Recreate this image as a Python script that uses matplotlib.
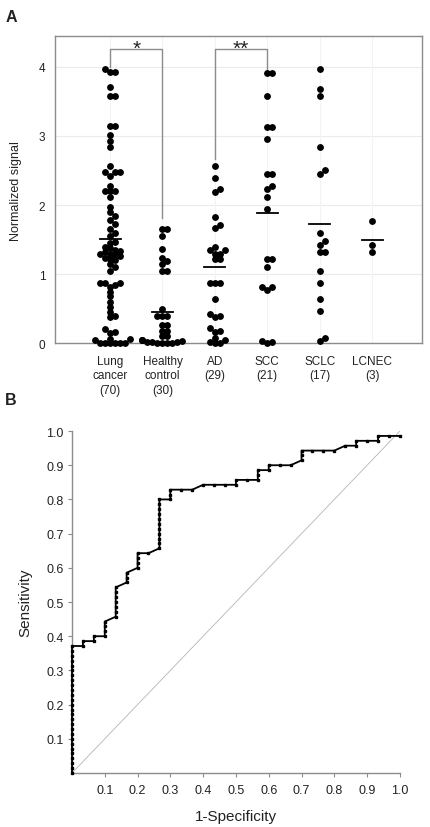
import numpy as np
import matplotlib
matplotlib.use("Agg")
import matplotlib.pyplot as plt

plt.rcParams['font.family'] = ['Liberation Sans', 'DejaVu Sans']

# ---- Panel A data (normalized signal) ----
group_labels = ["Lung\ncancer\n(70)", "Healthy\ncontrol\n(30)", "AD\n(29)",
                "SCC\n(21)", "SCLC\n(17)", "LCNEC\n(3)"]

lung_cancer = [3.97, 3.93, 3.92, 3.71, 3.57, 3.57, 3.14, 3.14, 3.02, 2.93, 2.84,
               2.57, 2.48, 2.48, 2.48, 2.42, 2.28, 2.20, 2.20, 2.20, 2.12,
               1.97, 1.90, 1.84, 1.78, 1.72, 1.66, 1.60, 1.55,
               1.47, 1.45, 1.40, 1.38, 1.35, 1.33, 1.32, 1.30, 1.30, 1.28, 1.26,
               1.24, 1.22, 1.20, 1.15, 1.10, 1.05,
               0.87, 0.87, 0.87, 0.85, 0.82,
               0.75, 0.68, 0.60, 0.53, 0.46, 0.40, 0.38,
               0.21, 0.17, 0.15,
               0.07, 0.06, 0.05, 0.01, 0.0, 0.0, 0.0, 0.0, 0.0]
healthy_control = [1.66, 1.66, 1.55, 1.37, 1.24, 1.19, 1.15, 1.05, 1.05,
                   0.50, 0.39, 0.39, 0.39, 0.26, 0.26, 0.18, 0.18, 0.11, 0.11,
                   0.05, 0.05, 0.05, 0.04, 0.02, 0.02, 0.02, 0.01, 0.0, 0.0, 0.0]
ad = [2.56, 2.39, 2.23, 2.19, 1.83, 1.71, 1.67,
      1.40, 1.35, 1.35, 1.30, 1.30, 1.22, 1.22,
      0.87, 0.87, 0.87, 0.64, 0.43, 0.40, 0.38, 0.22, 0.18, 0.16,
      0.08, 0.05, 0.02, 0.0, 0.0]
scc = [3.91, 3.91, 3.57, 3.13, 3.13, 2.95, 2.45, 2.45, 2.28, 2.23, 2.11, 1.94,
       1.22, 1.22, 1.10, 0.81, 0.81, 0.77, 0.04, 0.02, 0.0]
sclc = [3.96, 3.68, 3.57, 2.84, 2.50, 2.45, 1.60, 1.48, 1.42, 1.32, 1.32,
        1.04, 0.87, 0.64, 0.47, 0.08, 0.03]
lcnec = [1.77, 1.43, 1.32]

group_means = [1.51, 0.45, 1.10, 1.89, 1.72, 1.50]

# ---- Panel B data (ROC, counts of false / true positives) ----
n_neg = 30
n_pos = 70
fp_counts = [0] * 27 + [1, 1, 2, 2, 3, 3, 3, 3,
             4, 4, 4, 4, 4, 4, 4, 5, 5, 5, 6, 6, 6, 6, 7,
             8, 8, 8, 8, 8, 8, 8, 8, 8, 8, 8, 9, 9, 9, 10, 11,
             12, 13, 14, 15, 15, 16, 17, 17, 17, 18, 18, 19, 20,
             21, 21, 21, 22, 23, 24, 25, 26, 26, 27, 28, 28, 29, 30]
tp_counts = [0, 1, 2, 3, 4, 5, 6, 7, 8, 9, 10, 11, 12, 13, 14, 15, 16, 17, 18,
             19, 20, 21, 22, 23, 24, 25, 26,
             26, 27, 27, 28, 28, 29, 30, 31,
             32, 33, 34, 35, 36, 37, 38, 39, 40, 41, 42, 43, 44, 45, 45,
             46, 47, 48, 49, 50, 51, 52, 53, 54, 55, 56, 56, 57, 58, 58, 58,
             59, 59, 59, 59, 60, 60, 60, 61, 62, 62, 63, 63, 63,
             64, 65, 66, 66, 66, 66, 67, 67, 68, 68, 68, 69, 69, 69]

TXT = "#222222"
GRAY = "#8c8c8c"


def swarm_offsets(values, x_scale, y_scale, d):
    """Simple beeswarm: returns horizontal offsets (data units)."""
    order = np.argsort(values)
    placed = []
    offs = np.zeros(len(values))
    cands = [0, 1, -1, 2, -2, 3, -3, 4, -4]
    for i in order:
        y = values[i] * y_scale
        for c in cands:
            x = c * d
            if all((x - px) ** 2 + (y - py) ** 2 >= (0.85 * d) ** 2 for px, py in placed):
                break
        placed.append((x, y))
        offs[i] = x / x_scale
    return offs


fig = plt.figure(figsize=(4.3, 8.28), dpi=100)

# ================= Panel A =================
axA = fig.add_axes([0.128, 0.584, 0.853, 0.371])
axA.set_xlim(-1.05, 5.95)
axA.set_ylim(0, 4.44)

groups = [lung_cancer, healthy_control, ad, scc, sclc, lcnec]
x_px = 0.853 * 430 / 7.0      # pixels per category unit
y_px = 0.371 * 828 / 4.44     # pixels per signal unit
for i, vals in enumerate(groups):
    vals = np.array(vals)
    offs = swarm_offsets(vals, x_px, y_px, 5.0)
    axA.plot(i + offs, vals, 'o', color='black', ms=3.9, mec='black',
             clip_on=False, zorder=3)
    axA.plot([i - 0.2, i + 0.2], [group_means[i]] * 2, color='black', lw=1.3, zorder=4)

for y in [1, 2, 3, 4]:
    axA.axhline(y, color='#ebebeb', lw=0.8, zorder=0)
for i in range(len(groups)):
    axA.axvline(i, color='#f3f3f3', lw=0.8, zorder=0)

# significance brackets
axA.plot([0, 0, 1, 1], [4.0, 4.25, 4.25, 1.82], color=GRAY, lw=1.0)
axA.text(0.5, 4.13, "*", ha='center', va='bottom', fontsize=15, color=TXT)
axA.plot([2, 2, 3, 3], [2.67, 4.25, 4.25, 3.96], color=GRAY, lw=1.0)
axA.text(2.5, 4.13, "**", ha='center', va='bottom', fontsize=15, color=TXT)

axA.set_yticks([0, 1, 2, 3, 4])
axA.set_xticks(range(len(groups)))
axA.set_xticklabels(group_labels, fontsize=8, color=TXT, va='top', linespacing=1.3)
axA.tick_params(axis='both', length=0, labelsize=8.5, colors=TXT)
axA.tick_params(axis='x', pad=8)
axA.tick_params(axis='y', pad=7)
for s in axA.spines.values():
    s.set_color(GRAY)
    s.set_linewidth(1.0)
axA.set_ylabel("Normalized signal", fontsize=9, color=TXT, labelpad=12)

fig.text(0.012, 0.988, "A", fontsize=11.5, fontweight='bold', va='top', color=TXT)
fig.text(0.012, 0.525, "B", fontsize=11.5, fontweight='bold', va='top', color=TXT)

# ================= Panel B =================
axB = fig.add_axes([0.1674, 0.0652, 0.7626, 0.413])
axB.set_xlim(0, 1.0)
axB.set_ylim(0, 1.0)
fpr = np.array(fp_counts) / n_neg
tpr = np.array(tp_counts) / n_pos
axB.plot([0, 1], [0, 1], color='#b5b5b5', lw=0.6, zorder=1)
axB.plot(fpr, tpr, '-', color='black', lw=1.3, marker='s', ms=1.8,
         clip_on=False, zorder=3)

ticks = [0.1, 0.2, 0.3, 0.4, 0.5, 0.6, 0.7, 0.8, 0.9, 1.0]
axB.set_xticks(ticks)
axB.set_yticks(ticks)
axB.set_xticklabels([f"{t:.1f}" for t in ticks])
axB.set_yticklabels([f"{t:.1f}" for t in ticks])
axB.tick_params(axis='both', direction='out', length=3, width=0.8, color=GRAY,
                labelsize=9, labelcolor=TXT, pad=3)
axB.tick_params(axis='x', pad=5)
for side in ['top', 'right']:
    axB.spines[side].set_visible(False)
for side in ['left', 'bottom']:
    axB.spines[side].set_color(GRAY)
    axB.spines[side].set_linewidth(1.0)
axB.set_xlabel("1-Specificity", fontsize=11, color=TXT, labelpad=9)
axB.set_ylabel("Sensitivity", fontsize=11, color=TXT, labelpad=10)

fig.savefig("out.png", dpi=100)
